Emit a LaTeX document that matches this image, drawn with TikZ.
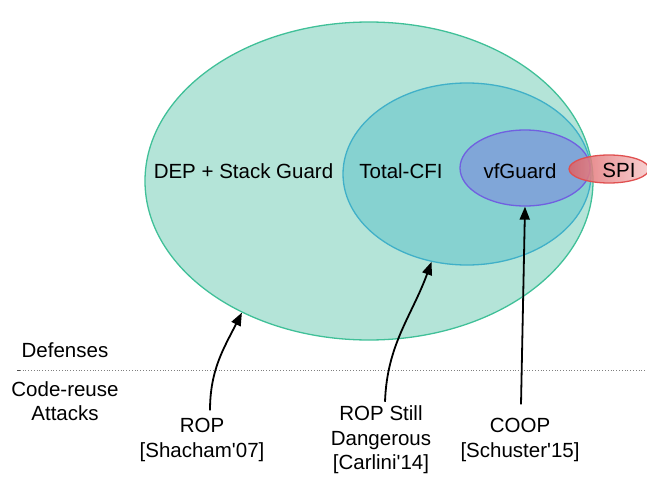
\documentclass[tikz,border=0pt]{standalone}
\usepackage{fontspec}
\newfontfamily\lsans{Liberation Sans}
\usetikzlibrary{shapes.geometric,arrows.meta}
\definecolor{outerfill}{RGB}{180,228,216}
\definecolor{outerline}{RGB}{64,192,152}
\definecolor{midfill}{RGB}{134,210,208}
\definecolor{midline}{RGB}{64,176,200}
\definecolor{vffill}{RGB}{128,166,216}
\definecolor{vfline}{RGB}{112,96,224}
\definecolor{spiline}{RGB}{224,80,80}
\definecolor{spileft}{RGB}{222,96,100}
\definecolor{spiright}{RGB}{246,200,200}
\tikzset{
  setell/.style={ellipse, inner sep=0pt, line width=1.3pt},
  lbl/.style={font=\lsans\fontsize{20.5}{24.5}\selectfont, align=center, inner sep=2pt},
  attack/.style={line width=1.8pt, -{Triangle[width=10pt,length=13pt]}},
}
\begin{document}
\begin{tikzpicture}[x=1pt,y=-1pt]
\useasboundingbox (0,0) rectangle (647,476);
% sets
\node[setell, draw=outerline, fill=outerfill, minimum width=448pt, minimum height=318pt] (outer) at (369,181) {};
\node[setell, draw=midline, fill=midfill, minimum width=248pt, minimum height=182pt] (mid) at (467,174) {};
\node[setell, draw=vfline, fill=vffill, minimum width=130pt, minimum height=76pt] (vf) at (525,168) {};
\node[setell, draw=spiline, left color=spileft, right color=spiright, fill opacity=0.85, minimum width=80pt, minimum height=28pt] (spi) at (609,169) {};
% set labels
\node[lbl] (dep) at (243.5,171) {DEP + Stack Guard};
\node[lbl] (tcfi) at (401,171) {Total-CFI};
\node[lbl] (vft) at (520,171) {vfGuard};
\node[lbl] (spit) at (619,170) {SPI};
% separator
\node[lbl] (def) at (65,350) {Defenses};
\node[lbl] (cra) at (65,401) {Code-reuse\\Attacks};
\coordinate (sepL) at (17,370);
\coordinate (sepR) at (647,370);
\draw[gray, line width=0.8pt, dotted] (sepL) -- (sepR);
\draw[black!70, line width=0.8pt] (sepL) -- ++(3,0);
% attacks
\node[lbl] (rop) at (202,440) {ROP\\{}[Shacham'07]};
\node[lbl] (ropsd) at (381,440) {ROP Still\\Dangerous\\{}[Carlini'14]};
\node[lbl] (coop) at (520,440) {COOP\\{}[Schuster'15]};
\draw[attack] ([xshift=8pt,yshift=6pt]rop.north) to[out=90,in=243] (outer.226.6);
\draw[attack] ([xshift=4pt,yshift=2pt]ropsd.north) to[out=88,in=250] (mid.248.9);
\draw[attack] ([xshift=1pt,yshift=12pt]coop.north) -- (vf.south);
\end{tikzpicture}
\end{document}
